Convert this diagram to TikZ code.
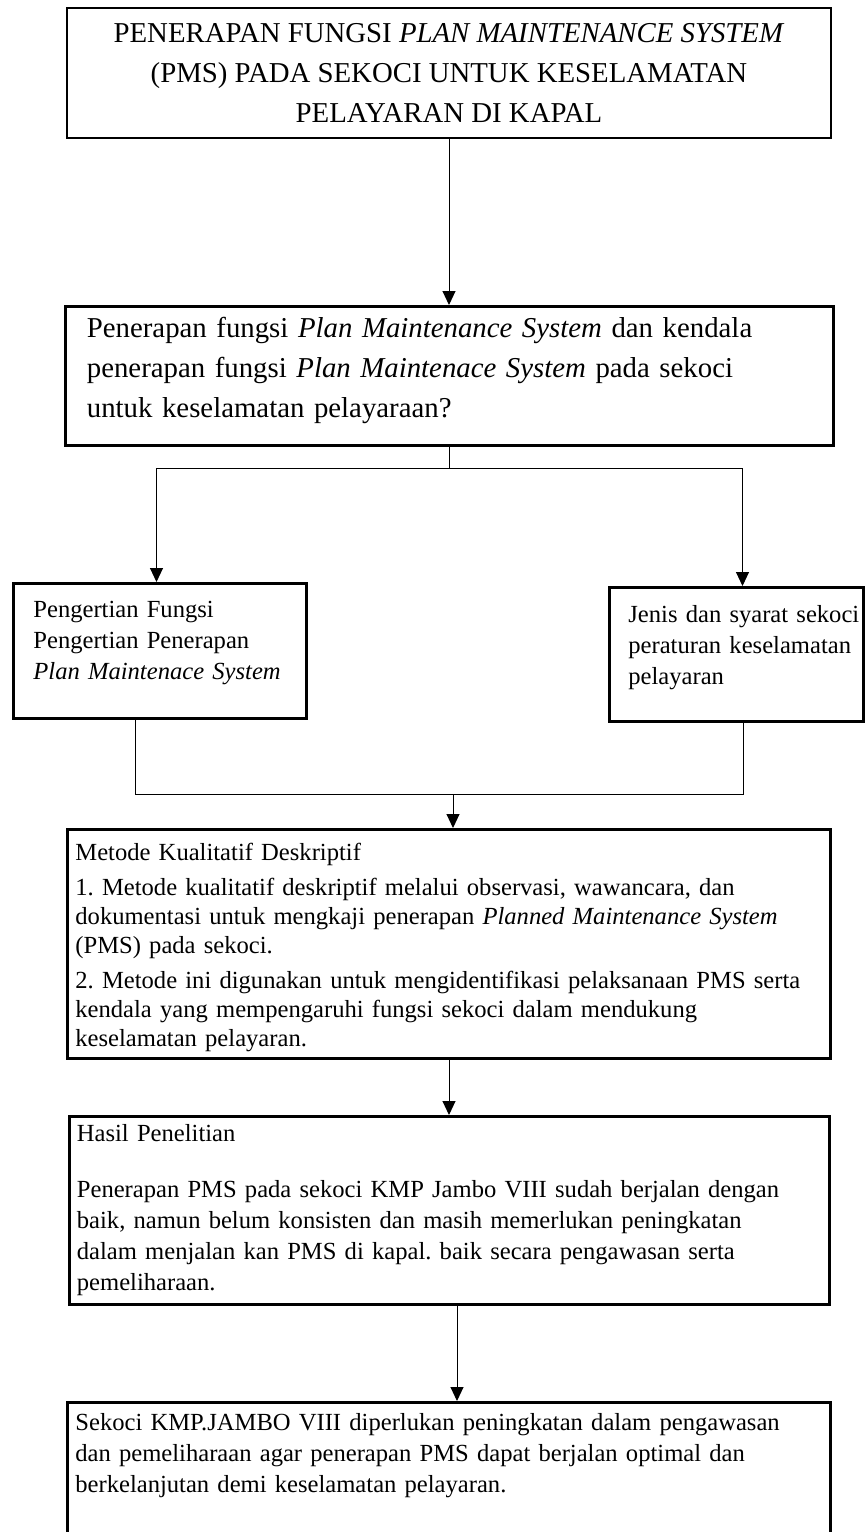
\documentclass[tikz,border=0pt]{standalone}
\usepackage{fontspec}
\setmainfont{Liberation Serif}
\usetikzlibrary{arrows.meta, positioning}
\newcommand{\bigtext}{\fontsize{14.4pt}{20pt}\selectfont}
\newcommand{\smalltext}{\fontsize{12.3pt}{15.5pt}\selectfont}
\frenchspacing

\begin{document}
\begin{tikzpicture}[
      frame/.style={draw=black, line width=1.5pt, inner sep=0pt, anchor=north west},
      txt/.style={inner sep=0pt, anchor=base west, align=left, font=\smalltext},
      line/.style={draw=black, line width=0.5pt},
      arr/.style={line, -{Triangle[length=7pt, width=6.5pt]}}]
    \useasboundingbox (0,0) rectangle (433.5pt,-766pt);
    % boxes
    \node[frame, line width=1pt, minimum width=382pt, minimum height=65pt, align=center,
      font=\bigtext] (title) at (33pt,-3.5pt)
      {PENERAPAN FUNGSI \textit{PLAN MAINTENANCE SYSTEM}\\
       (PMS) PADA SEKOCI UNTUK KESELAMATAN\\ PELAYARAN DI KAPAL};
    \node[frame, anchor=north, minimum width=384pt, minimum height=69.5pt, below=83pt of title] (q) {};
    \node[frame, minimum width=146.5pt, minimum height=67.5pt] (def) at (6pt,-291pt) {};
    \node[frame, minimum width=127pt, minimum height=67pt] (req) at (304pt,-293pt) {};
    \node[frame, minimum width=381.5pt, minimum height=114.5pt] (metode) at (33pt,-414pt) {};
    \node[frame, anchor=north, minimum width=380pt, minimum height=94pt, below=27.5pt of metode] (hasil) {};
    \node[frame, anchor=north, minimum width=381.5pt, minimum height=80pt, below=47.5pt of hasil] (akhir) {};
    % texts
    \node[txt, font=\bigtext, text width=400pt] (qtext) at ([shift={(11.5pt,-16pt)}]q.north west)
      {Penerapan fungsi \textit{Plan Maintenance System} dan kendala\\
       penerapan fungsi \textit{Plan Maintenace System} pada sekoci\\
       untuk keselamatan pelayaraan?};
    \node[txt, text width=160pt] (deftext) at ([shift={(10.5pt,-17.5pt)}]def.north west)
      {Pengertian Fungsi\\ Pengertian Penerapan\\ \textit{Plan Maintenace System}};
    \node[txt, text width=160pt] (reqtext) at ([shift={(10pt,-18pt)}]req.north west)
      {Jenis dan syarat sekoci\\ peraturan keselamatan\\ pelayaran};
    \node[txt, text width=400pt, font=\fontsize{12.3pt}{14.5pt}\selectfont] (metodetext)
      at ([shift={(4.5pt,-16pt)}]metode.north west)
      {Metode Kualitatif Deskriptif\\[3pt]
       1. Metode kualitatif deskriptif melalui observasi, wawancara, dan\\
       dokumentasi untuk mengkaji penerapan \textit{Planned Maintenance System}\\
       (PMS) pada sekoci.\\[3pt]
       2. Metode ini digunakan untuk mengidentifikasi pelaksanaan PMS serta\\
       kendala yang mempengaruhi fungsi sekoci dalam mendukung\\
       keselamatan pelayaran.};
    \node[txt, text width=400pt] (hasiltext) at ([shift={(4.5pt,-13pt)}]hasil.north west)
      {Hasil Penelitian\\[12.5pt]
       Penerapan PMS pada sekoci KMP Jambo VIII sudah berjalan dengan\\
       baik, namun belum konsisten dan masih memerlukan peningkatan\\
       dalam menjalan kan PMS di kapal. baik secara pengawasan serta\\
       pemeliharaan.};
    \node[txt, text width=400pt] (akhirtext) at ([shift={(4.5pt,-14.5pt)}]akhir.north west)
      {Sekoci KMP.JAMBO VIII diperlukan peningkatan dalam pengawasan\\
       dan pemeliharaan agar penerapan PMS dapat berjalan optimal dan\\
       berkelanjutan demi keselamatan pelayaran.};
    % connectors
    \coordinate (fork) at ([yshift=-10.5pt]q.south);
    \coordinate (join) at ([xshift=2pt, yshift=17pt]metode.north);
    \draw[arr] (title.south) -- (q.north);
    \draw[line] (q.south) -- (fork);
    \draw[arr] (fork) -| ([xshift=-1.75pt]def.north);
    \draw[arr] (fork) -| ([xshift=3pt]req.north);
    \draw[line] ([xshift=-12.25pt]def.south) |- (join) -| ([xshift=3.5pt]req.south);
    \draw[arr] (join) -- (join |- metode.north);
    \draw[arr] (metode.south) -- (metode.south |- hasil.north);
    \draw[arr] ([xshift=4pt]hasil.south) -- ([xshift=4pt]akhir.north);
  \end{tikzpicture}
\end{document}
